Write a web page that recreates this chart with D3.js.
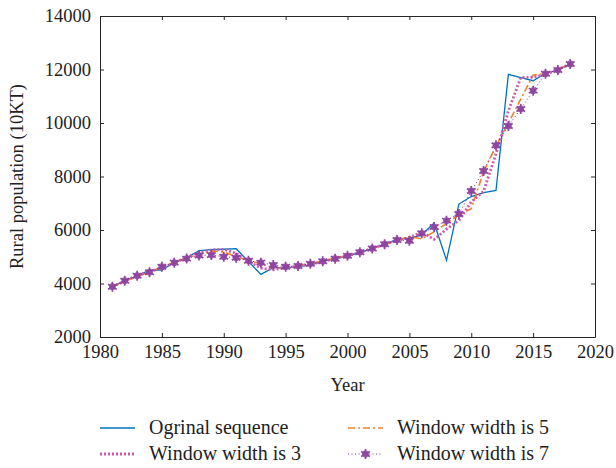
<!DOCTYPE html>
<html>
<head>
<meta charset="utf-8">
<script src="https://cdn.jsdelivr.net/npm/d3@7"></script>
<style>
  body { margin: 0; background: #fff; }
  text { font-family: "Liberation Serif", "DejaVu Serif", serif; fill: #222; }
</style>
</head>
<body>
<div id="chart"></div>
<script>
const years = d3.range(1981, 2019);

const original = [3880, 4100, 4290, 4500, 4500, 4790, 4960, 5230, 5270, 5280,
  5300, 4820, 4340, 4590, 4590, 4630, 4690, 4830, 4930, 5030,
  5150, 5300, 5480, 5640, 5700, 5810, 6260, 4870, 6970, 7250,
  7400, 7480, 11820, 11700, 11580, 11860, 11980, 12200];

const window3 = [3880, 4090, 4300, 4430, 4600, 4750, 4990, 5150, 5260, 5280,
  5130, 4820, 4580, 4510, 4600, 4640, 4720, 4820, 4940, 5040,
  5160, 5310, 5470, 5610, 5720, 5920, 5650, 6030, 6360, 7050,
  7450, 8850, 10450, 11700, 11710, 11810, 12010, 12200];

const window5 = [3880, 4100, 4250, 4440, 4610, 4800, 4940, 5100, 5210, 5180,
  5000, 4870, 4730, 4590, 4550, 4670, 4750, 4830, 4950, 5060,
  5190, 5320, 5450, 5620, 5750, 5670, 5930, 6240, 6560, 6800,
  8180, 9130, 10000, 10890, 11790, 11850, 12000, 12200];

const window7 = [3880, 4105, 4290, 4420, 4630, 4780, 4930, 5050, 5065, 5000,
  4965, 4850, 4780, 4690, 4630, 4655, 4735, 4830, 4925, 5035,
  5170, 5310, 5470, 5630, 5600, 5875, 6110, 6350, 6600, 7460,
  8205, 9165, 9890, 10525, 11210, 11845, 11980, 12205];

const xTicks = [1980, 1985, 1990, 1995, 2000, 2005, 2010, 2015, 2020];
const yTicks = [2000, 4000, 6000, 8000, 10000, 12000, 14000];

const seriesNames = ["Ogrinal sequence", "Window width is 3", "Window width is 5", "Window width is 7"];

const width = 616, height = 468;
const margin = { top: 16, right: 21, bottom: 131, left: 100 };

const svg = d3.select("#chart").append("svg")
  .attr("width", width)
  .attr("height", height);

const x = d3.scaleLinear().domain([1980, 2020]).range([margin.left, width - margin.right]);
const y = d3.scaleLinear().domain([2000, 14000]).range([height - margin.bottom, margin.top]);

const axisColor = "#262626";
const fontSize = 18.5;

// axes with inward ticks (box style)
const gBottom = svg.append("g")
  .attr("transform", `translate(0,${y(2000)})`)
  .call(d3.axisBottom(x).tickValues(xTicks).tickFormat(d3.format("d")).tickSizeInner(-4).tickSizeOuter(0).tickPadding(8));
const gTop = svg.append("g")
  .attr("transform", `translate(0,${y(14000)})`)
  .call(d3.axisTop(x).tickValues(xTicks).tickFormat("").tickSizeInner(-4).tickSizeOuter(0));
const gLeft = svg.append("g")
  .attr("transform", `translate(${x(1980)},0)`)
  .call(d3.axisLeft(y).tickValues(yTicks).tickFormat(d3.format("d")).tickSizeInner(-4).tickSizeOuter(0).tickPadding(9));
const gRight = svg.append("g")
  .attr("transform", `translate(${x(2020)},0)`)
  .call(d3.axisRight(y).tickValues(yTicks).tickFormat("").tickSizeInner(-4).tickSizeOuter(0));

[gBottom, gTop, gLeft, gRight].forEach(g => {
  g.selectAll("path, line").attr("stroke", axisColor).attr("stroke-width", 1);
  g.selectAll("text").attr("font-size", fontSize).attr("fill", "#222")
    .style("font-family", '"Liberation Serif", serif');
});

svg.append("text")
  .attr("x", (x(1980) + x(2020)) / 2)
  .attr("y", 391)
  .attr("text-anchor", "middle")
  .attr("font-size", fontSize)
  .text("Year");

svg.append("text")
  .attr("transform", `translate(23,${(y(2000) + y(14000)) / 2}) rotate(-90)`)
  .attr("text-anchor", "middle")
  .attr("font-size", fontSize)
  .text("Rural population (10KT)");

const line = d3.line().x((d, i) => x(years[i])).y(d => y(d));

const styles = [
  { data: original, color: "#0072BD", width: 1.3, dash: null },
  { data: window3, color: "#CC5AAE", width: 2.8, dash: "2,2" },
  { data: window5, color: "#F0822A", width: 1.6, dash: "7,3,2,3" },
  { data: window7, color: "#7E2F8E", width: 1, dash: "1,2.5" }
];

// draw order: original, window 5, window 3, window 7
[0, 2, 1, 3].forEach(k => {
  const s = styles[k];
  svg.append("path")
    .datum(s.data)
    .attr("fill", "none")
    .attr("stroke", s.color)
    .attr("stroke-width", s.width)
    .attr("stroke-dasharray", s.dash)
    .attr("d", line);
});

const star = d3.symbol().type(d3.symbolAsterisk).size(70);

function drawStar(g, cx, cy) {
  g.append("circle").attr("cx", cx).attr("cy", cy).attr("r", 3.4)
    .attr("fill", "#8E44A0").attr("opacity", 0.85);
  g.append("path").attr("d", star()).attr("transform", `translate(${cx},${cy})`)
    .attr("fill", "none").attr("stroke", "#8E44A0").attr("stroke-width", 1.7);
}

const gStars = svg.append("g");
window7.forEach((v, i) => drawStar(gStars, x(years[i]), y(v)));

// legend
const legend = svg.append("g");
const legendPos = [
  { lx: 100, ly: 428 },
  { lx: 100, ly: 454 },
  { lx: 348, ly: 428 },
  { lx: 348, ly: 454 }
];
styles.forEach((s, k) => {
  const p = legendPos[k];
  legend.append("line")
    .attr("x1", p.lx).attr("x2", p.lx + 35)
    .attr("y1", p.ly).attr("y2", p.ly)
    .attr("stroke", s.color)
    .attr("stroke-width", s.width)
    .attr("stroke-dasharray", s.dash);
  if (k === 3) drawStar(legend, p.lx + 17.5, p.ly);
  legend.append("text")
    .attr("x", p.lx + 49)
    .attr("y", p.ly + 6)
    .attr("font-size", 20)
    .text(seriesNames[k]);
});
</script>
</body>
</html>
